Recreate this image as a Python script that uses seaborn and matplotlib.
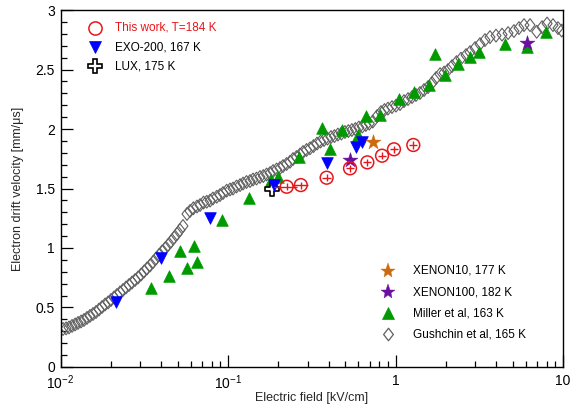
import numpy as np
import pandas as pd
import seaborn as sns
import matplotlib
matplotlib.use("Agg")
import matplotlib.pyplot as plt
from matplotlib.path import Path
from matplotlib.ticker import FixedLocator, FixedFormatter, NullFormatter

# ---------------- data ----------------
this_E = [0.224, 0.272, 0.388, 0.535, 0.679, 0.831, 0.979, 1.277]
this_v = [1.515, 1.529, 1.591, 1.670, 1.720, 1.776, 1.830, 1.866]
this_xerr = [0.035, 0.03, 0.022, 0.03, 0.038, 0.046, 0.055, 0.072]
this_yerr = [0.03, 0.03, 0.03, 0.03, 0.03, 0.03, 0.03, 0.03]

exo_E = [0.0214, 0.0398, 0.078, 0.188, 0.388, 0.578, 0.628]
exo_v = [0.549, 0.913, 1.250, 1.526, 1.711, 1.851, 1.888]

lux_E = [0.182]
lux_v = [1.50]

xe10_E = [0.737]
xe10_v = [1.893]

xe100_E = [0.535, 6.12]
xe100_v = [1.739, 2.72]

miller_E = [0.0346, 0.0446, 0.0517, 0.0571, 0.0626, 0.0656, 0.0921, 0.1335,
            0.180, 0.1996, 0.265, 0.3626, 0.406, 0.481, 0.600, 0.664, 0.811,
            1.054, 1.295, 1.591, 1.714, 1.975, 2.37, 2.785, 3.165, 4.505,
            6.07, 7.915]
miller_v = [0.661, 0.765, 0.975, 0.829, 1.019, 0.885, 1.235, 1.418,
            1.571, 1.594, 1.762, 2.006, 1.832, 1.992, 1.950, 2.109, 2.118,
            2.250, 2.313, 2.367, 2.630, 2.454, 2.546, 2.608, 2.645, 2.714,
            2.687, 2.818]

gush_E = [0.01035, 0.01079, 0.01124, 0.01172, 0.01222, 0.01272, 0.01326, 0.01381,
          0.01439, 0.01499, 0.01563, 0.01629, 0.01698, 0.01770, 0.01845, 0.01923,
          0.02001, 0.02086, 0.02173, 0.02265, 0.02361, 0.02460, 0.02565, 0.02673,
          0.02786, 0.02904, 0.03027, 0.03155, 0.03284, 0.03423, 0.03568, 0.03719,
          0.03876, 0.04039, 0.04210, 0.04388, 0.04571, 0.04765, 0.04966, 0.05164,
          0.05383, 0.05689, 0.05929, 0.06209, 0.06531, 0.06808, 0.07145, 0.07464,
          0.07815, 0.08128, 0.08570, 0.08954, 0.09333, 0.09817, 0.1028, 0.1071,
          0.1124, 0.1180, 0.1230, 0.1289, 0.1353, 0.1410, 0.1479, 0.1552, 0.1625,
          0.1699, 0.1782, 0.1858, 0.1950, 0.2043, 0.2130, 0.2236, 0.2345, 0.2444,
          0.2564, 0.2690, 0.2805, 0.2943, 0.3087, 0.3238, 0.3399, 0.3566, 0.3741,
          0.3924, 0.4117, 0.4319, 0.4531, 0.4753, 0.4987, 0.5231, 0.5488, 0.5757,
          0.6040, 0.6336, 0.6647, 0.6973, 0.7315, 0.7762, 0.8192, 0.8594, 0.9016,
          0.9527, 1.007, 1.064, 1.124, 1.188, 1.256, 1.325, 1.400, 1.480, 1.564,
          1.652, 1.746, 1.845, 1.950, 2.056, 2.173, 2.312, 2.460, 2.636, 2.786,
          2.985, 3.192, 3.420, 3.664, 3.981, 4.325, 4.699, 5.093, 5.459, 5.850,
          6.355, 6.966, 7.497, 8.035, 8.713, 9.338, 9.824]
gush_v = [0.319, 0.324, 0.332, 0.345, 0.357, 0.370, 0.382, 0.395,
          0.412, 0.429, 0.445, 0.462, 0.483, 0.504, 0.525, 0.542,
          0.563, 0.584, 0.605, 0.626, 0.647, 0.668, 0.689, 0.710,
          0.731, 0.752, 0.777, 0.803, 0.828, 0.853, 0.882, 0.912,
          0.941, 0.971, 0.996, 1.025, 1.055, 1.088, 1.118, 1.151,
          1.185, 1.286, 1.311, 1.334, 1.349, 1.361, 1.382, 1.389,
          1.399, 1.416, 1.431, 1.445, 1.462, 1.482, 1.492, 1.500,
          1.517, 1.529, 1.542, 1.555, 1.563, 1.576, 1.584, 1.597, 1.605,
          1.618, 1.630, 1.647, 1.660, 1.672, 1.689, 1.706, 1.725, 1.748,
          1.765, 1.786, 1.807, 1.824, 1.838, 1.857, 1.878, 1.895, 1.908,
          1.920, 1.933, 1.941, 1.954, 1.962, 1.975, 1.983, 1.992, 2.000,
          2.013, 2.021, 2.034, 2.046, 2.063, 2.109, 2.143, 2.160, 2.172,
          2.185, 2.197, 2.210, 2.235, 2.252, 2.269, 2.286, 2.303, 2.328, 2.353,
          2.387, 2.429, 2.462, 2.475, 2.496, 2.529, 2.563, 2.592, 2.622, 2.647,
          2.681, 2.714, 2.748, 2.773, 2.786, 2.794, 2.807, 2.824, 2.849, 2.874,
          2.874, 2.818, 2.857, 2.887, 2.874, 2.849, 2.828]

legend_top = ["This work, T=184 K", "EXO-200, 167 K", "LUX, 175 K"]
legend_bottom = ["XENON10, 177 K", "XENON100, 182 K", "Miller et al, 163 K", "Gushchin et al, 165 K"]
xtick_vals = [0.01, 0.1, 1, 10]
xtick_labels = ["$10^{-2}$", "$10^{-1}$", "1", "10"]
ytick_vals = [0, 0.5, 1, 1.5, 2, 2.5, 3]
ytick_labels = ["0", "0.5", "1", "1.5", "2", "2.5", "3"]

# ---------------- style ----------------
sns.set_theme(style="white")
plt.rcParams['font.family'] = ['Liberation Sans', 'DejaVu Sans']
plt.rcParams['mathtext.default'] = 'regular'

RED = '#e8161b'
BLUE = '#0000ff'
GREEN = '#009a00'
ORANGE = '#cc6a10'
PURPLE = '#6a0fa0'
GRAY = '#5f5f5f'

# open diamond like ROOT marker 27
DIAMOND = Path([(0, 1), (0.78, 0), (0, -1), (-0.78, 0), (0, 1)],
               [Path.MOVETO, Path.LINETO, Path.LINETO, Path.LINETO, Path.CLOSEPOLY])

fig = plt.figure(figsize=(5.71, 4.05), dpi=100)
ax = fig.add_axes([0.106, 0.094, 0.880, 0.881])
ax.set_xscale('log')

df_g = pd.DataFrame({'E': gush_E, 'v': gush_v})
sns.scatterplot(data=df_g, x='E', y='v', ax=ax, marker=DIAMOND, s=85,
                facecolor='none', edgecolor=GRAY, linewidth=0.8, zorder=2)

df_m = pd.DataFrame({'E': miller_E, 'v': miller_v})
sns.scatterplot(data=df_m, x='E', y='v', ax=ax, marker='^', s=70,
                color=GREEN, edgecolor=GREEN, linewidth=0.5, zorder=3)

df_e = pd.DataFrame({'E': exo_E, 'v': exo_v})
sns.scatterplot(data=df_e, x='E', y='v', ax=ax, marker='v', s=70,
                color=BLUE, edgecolor=BLUE, linewidth=0.5, zorder=4)

df_l = pd.DataFrame({'E': lux_E, 'v': lux_v})
sns.scatterplot(data=df_l, x='E', y='v', ax=ax, marker='P', s=110,
                facecolor='white', edgecolor='black', linewidth=1.2, zorder=3.5)

df_x10 = pd.DataFrame({'E': xe10_E, 'v': xe10_v})
sns.scatterplot(data=df_x10, x='E', y='v', ax=ax, marker='*', s=130,
                color=ORANGE, edgecolor=ORANGE, linewidth=0.3, zorder=5)

df_x100 = pd.DataFrame({'E': xe100_E, 'v': xe100_v})
sns.scatterplot(data=df_x100, x='E', y='v', ax=ax, marker='*', s=130,
                color=PURPLE, edgecolor=PURPLE, linewidth=0.3, zorder=5)

ax.errorbar(this_E, this_v, xerr=this_xerr, yerr=this_yerr, fmt='none',
            ecolor=RED, elinewidth=1.0, capsize=0, zorder=6)
df_t = pd.DataFrame({'E': this_E, 'v': this_v})
sns.scatterplot(data=df_t, x='E', y='v', ax=ax, marker='o', s=85,
                facecolor='none', edgecolor=RED, linewidth=1.1, zorder=6)

ax.set_xlim(0.01, 10)
ax.set_ylim(0, 3)

ax.xaxis.set_major_locator(FixedLocator(xtick_vals))
ax.xaxis.set_major_formatter(FixedFormatter(xtick_labels))
minors = [m * d for d in (0.01, 0.1, 1) for m in range(2, 10)]
ax.xaxis.set_minor_locator(FixedLocator(minors))
ax.xaxis.set_minor_formatter(NullFormatter())
ax.yaxis.set_major_locator(FixedLocator(ytick_vals))
ax.yaxis.set_major_formatter(FixedFormatter(ytick_labels))
ax.yaxis.set_minor_locator(FixedLocator([i * 0.1 for i in range(31)]))

ax.tick_params(which='major', direction='in', length=8.5, width=0.9, colors='black',
               labelsize=10, bottom=True, left=True, top=False, right=False, pad=4)
ax.tick_params(which='minor', direction='in', length=4.5, width=0.9, colors='black',
               bottom=True, left=True, top=False, right=False)
ax.tick_params(axis='x', which='major', pad=5)
for sp in ax.spines.values():
    sp.set_color('black')
    sp.set_linewidth(1.0)
    sp.set_visible(True)

ax.set_xlabel("Electric field [kV/cm]", fontsize=9, labelpad=0)
ax.set_ylabel("Electron drift velocity [mm/\u03bcs]", fontsize=9, labelpad=8)

# legends (manual, axes coordinates)
def leg_entry(xm, xt, y, marker, ms, mfc, mec, mew, label, tcolor='black'):
    ax.plot([xm], [y], marker=marker, markersize=ms, markerfacecolor=mfc,
            markeredgecolor=mec, markeredgewidth=mew, linestyle='none',
            transform=ax.transAxes, clip_on=False, zorder=10)
    ax.text(xt, y, label, transform=ax.transAxes, fontsize=8.5, color=tcolor,
            va='center', ha='left', zorder=10)

leg_entry(0.069, 0.108, 0.950, 'o', 9.5, 'none', RED, 1.1, legend_top[0], RED)
leg_entry(0.069, 0.108, 0.896, 'v', 8.5, BLUE, BLUE, 0.5, legend_top[1])
leg_entry(0.069, 0.108, 0.843, 'P', 10.5, 'white', 'black', 1.2, legend_top[2])

leg_entry(0.652, 0.702, 0.269, '*', 11, ORANGE, ORANGE, 0.3, legend_bottom[0])
leg_entry(0.652, 0.702, 0.210, '*', 11, PURPLE, PURPLE, 0.3, legend_bottom[1])
leg_entry(0.652, 0.702, 0.151, '^', 8.5, GREEN, GREEN, 0.5, legend_bottom[2])
leg_entry(0.652, 0.702, 0.092, DIAMOND, 9, 'none', GRAY, 0.9, legend_bottom[3])

fig.savefig("out.png", dpi=100)
